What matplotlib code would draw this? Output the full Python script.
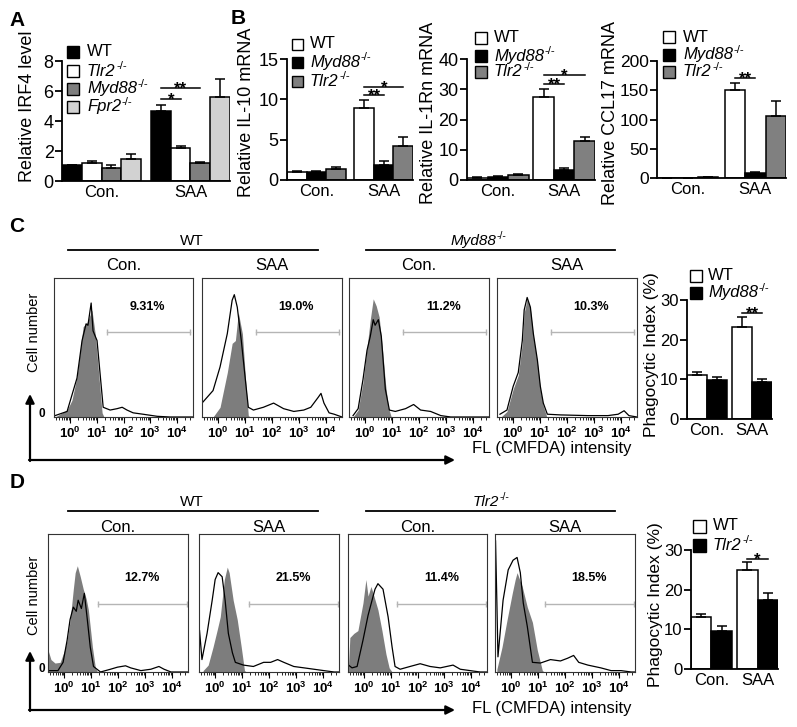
import numpy as np
import matplotlib.pyplot as plt
from matplotlib.patches import Rectangle

plt.rcParams['font.family'] = ['Liberation Sans', 'DejaVu Sans']
plt.rcParams['mathtext.fontset'] = 'custom'
plt.rcParams['mathtext.rm'] = 'Liberation Sans'
plt.rcParams['mathtext.it'] = 'Liberation Sans:italic'
plt.rcParams['mathtext.bf'] = 'Liberation Sans:bold'

W, H = 797, 727

groups = ['Con.', 'SAA']

# ---- A: IRF4 ----
a_labels = ['WT', 'Tlr2', 'Myd88', 'Fpr2']
a_mean = [[1.05, 4.7], [1.2, 2.2], [0.9, 1.2], [1.5, 5.6]]
a_err = [[0.05, 0.38], [0.12, 0.13], [0.2, 0.1], [0.33, 1.2]]

# ---- B: mRNA ----
b_labels = ['WT', 'Myd88', 'Tlr2']
il10_mean = [[1.05, 8.9], [1.05, 1.8], [1.35, 4.2]]
il10_err = [[0.1, 1.0], [0.05, 0.6], [0.3, 1.1]]
il1rn_mean = [[0.8, 27.5], [1.1, 3.3], [1.6, 12.8]]
il1rn_err = [[0.1, 2.5], [0.2, 0.6], [0.3, 1.3]]
ccl17_mean = [[0.5, 151], [0.3, 8], [1.5, 106]]
ccl17_err = [[0.2, 12], [0.1, 3], [0.3, 26]]

# ---- C / D phagocytic index ----
c_mean = [[11.1, 23.2], [9.8, 9.3]]
c_err = [[0.8, 2.5], [0.8, 0.8]]
d_mean = [[13.1, 25.0], [9.7, 17.3]]
d_err = [[0.8, 2.0], [1.1, 1.9]]

# ---- flow histograms: (log10 FL, relative count) ----
c1_grey = [(-0.56, 0), (-0.11, 0.05), (0.07, 0.12), (0.26, 0.29), (0.49, 0.65), (0.64, 0.68),
           (0.82, 0.77), (0.94, 0.60), (1.05, 0.36), (1.2, 0.03), (1.27, 0)]
c1_black = [(-0.56, 0.01), (-0.11, 0.04), (0.26, 0.28), (0.45, 0.55), (0.6, 0.67), (0.67, 0.66),
            (0.79, 0.82), (0.86, 0.62), (1.01, 0.55), (1.12, 0.32), (1.24, 0.07), (1.5, 0.05),
            (1.76, 0.06), (1.95, 0.07), (2.13, 0.05), (2.36, 0.03), (2.73, 0.02), (3.26, 0.005),
            (3.74, 0.0), (4.6, 0.0)]
c2_grey = [(-0.19, 0.0), (0.07, 0.07), (0.34, 0.32), (0.52, 0.53), (0.64, 0.55), (0.75, 0.75),
           (0.9, 0.60), (1.01, 0.29), (1.12, 0.01), (1.2, 0)]
c2_black = [(-0.6, 0.10), (-0.19, 0.19), (0.07, 0.36), (0.34, 0.60), (0.52, 0.84), (0.6, 0.88),
            (0.71, 0.79), (0.86, 0.55), (1.01, 0.27), (1.12, 0.07), (1.31, 0.05), (1.68, 0.07),
            (2.06, 0.10), (2.43, 0.06), (2.81, 0.04), (3.18, 0.05), (3.44, 0.07), (3.71, 0.14),
            (3.82, 0.17), (3.93, 0.10), (4.12, 0.03), (4.31, 0.02), (4.6, 0.0)]
c3_grey = [(-0.45, 0), (-0.26, 0.05), (-0.08, 0.25), (0.07, 0.5), (0.19, 0.7), (0.3, 0.85),
           (0.41, 0.8), (0.52, 0.72), (0.64, 0.5), (0.75, 0.25), (0.86, 0.07), (0.97, 0)]
c3_black = [(-0.45, 0.01), (-0.26, 0.06), (-0.08, 0.27), (0.07, 0.48), (0.19, 0.58), (0.3, 0.7),
            (0.37, 0.66), (0.49, 0.7), (0.6, 0.58), (0.75, 0.2), (0.9, 0.05), (1.12, 0.04),
            (1.5, 0.06), (1.8, 0.09), (2.06, 0.05), (2.43, 0.04), (2.81, 0.01), (3.18, 0.0),
            (4.6, 0.0)]
c4_grey = [(-0.45, 0.0), (-0.23, 0.04), (0.0, 0.2), (0.19, 0.3), (0.34, 0.53), (0.41, 0.75),
           (0.52, 0.85), (0.64, 0.78), (0.75, 0.58), (0.9, 0.39), (1.01, 0.2), (1.12, 0.08),
           (1.25, 0)]
c4_black = [(-0.49, 0.02), (-0.23, 0.05), (0.0, 0.22), (0.19, 0.32), (0.34, 0.55), (0.41, 0.77),
            (0.52, 0.86), (0.64, 0.79), (0.75, 0.6), (0.9, 0.41), (1.01, 0.22), (1.12, 0.1),
            (1.27, 0.02), (1.76, 0.015), (2.77, 0.01), (3.52, 0.01), (3.9, 0.02), (4.12, 0.045),
            (4.3, 0.01), (4.6, 0.0)]
d1_grey = [(-0.6, 0.16), (-0.49, 0.09), (-0.34, 0.065), (-0.15, 0.07), (0.0, 0.15), (0.11, 0.23),
           (0.22, 0.37), (0.34, 0.6), (0.41, 0.72), (0.49, 0.77), (0.6, 0.69), (0.71, 0.6),
           (0.82, 0.53), (0.9, 0.45), (1.05, 0.18), (1.16, 0.03), (1.24, 0)]
d1_black = [(-0.6, 0.01), (-0.23, 0.01), (-0.04, 0.07), (0.11, 0.23), (0.22, 0.38), (0.34, 0.47),
            (0.45, 0.44), (0.52, 0.52), (0.64, 0.46), (0.75, 0.57), (0.86, 0.38), (0.97, 0.18),
            (1.09, 0.04), (1.35, 0.0), (1.72, 0.02), (1.98, 0.035), (2.28, 0.045), (2.47, 0.03),
            (2.85, 0.01), (3.22, 0.02), (3.52, 0.04), (3.71, 0.02), (3.97, 0.0), (4.6, 0.0)]
d2_grey = [(-0.45, 0.01), (-0.26, 0.05), (-0.08, 0.18), (0.07, 0.30), (0.19, 0.4), (0.34, 0.67),
           (0.45, 0.76), (0.52, 0.72), (0.67, 0.52), (0.82, 0.38), (0.97, 0.18), (1.09, 0.01),
           (1.16, 0)]
d2_black = [(-0.58, 0.30), (-0.49, 0.09), (-0.3, 0.28), (-0.11, 0.52), (0.0, 0.67), (0.11, 0.72),
            (0.26, 0.69), (0.37, 0.52), (0.49, 0.28), (0.64, 0.14), (0.75, 0.07), (1.05, 0.05),
            (1.42, 0.04), (1.8, 0.07), (2.06, 0.07), (2.32, 0.09), (2.55, 0.07), (2.92, 0.04),
            (3.3, 0.03), (3.67, 0.02), (4.04, 0.01), (4.42, 0.0), (4.6, 0.0)]
d3_grey = [(-0.58, 0.05), (-0.53, 0.25), (-0.38, 0.28), (-0.23, 0.30), (-0.04, 0.5), (0.07, 0.67),
           (0.15, 0.55), (0.26, 0.62), (0.37, 0.55), (0.52, 0.45), (0.67, 0.3), (0.82, 0.13),
           (0.94, 0.03), (1.05, 0)]
d3_black = [(-0.58, 0.05), (-0.45, 0.03), (-0.26, 0.04), (-0.04, 0.23), (0.15, 0.41), (0.3, 0.52),
            (0.41, 0.6), (0.52, 0.64), (0.71, 0.6), (0.9, 0.4), (1.05, 0.18), (1.16, 0.04),
            (1.35, 0.02), (1.72, 0.04), (2.1, 0.06), (2.47, 0.04), (2.85, 0.03), (3.33, 0.05),
            (3.6, 0.02), (3.97, 0.01), (4.34, 0.0), (4.6, 0.0)]
d4_grey = [(-0.53, 0.02), (-0.34, 0.18), (-0.15, 0.38), (0.04, 0.57), (0.15, 0.67), (0.22, 0.72),
           (0.41, 0.62), (0.6, 0.47), (0.79, 0.36), (0.97, 0.16), (1.16, 0.01), (1.24, 0)]
d4_black = [(-0.58, 0.95), (-0.53, 0.5), (-0.49, 0.11), (-0.3, 0.52), (-0.11, 0.74), (0.07, 0.81),
            (0.22, 0.83), (0.34, 0.72), (0.45, 0.5), (0.6, 0.33), (0.79, 0.07), (1.09, 0.065),
            (1.46, 0.09), (1.83, 0.08), (2.1, 0.10), (2.32, 0.12), (2.51, 0.07), (2.85, 0.05),
            (3.33, 0.03), (3.71, 0.01), (4.08, 0.01), (4.46, 0.0), (4.6, 0.0)]
c_pct = ['9.31%', '19.0%', '11.2%', '10.3%']
d_pct = ['12.7%', '21.5%', '11.4%', '18.5%']

FILL = '#7d7d7d'

fig = plt.figure(figsize=(W / 100, H / 100), dpi=100)
renderer = fig.canvas.get_renderer()


def rect(l, t, r, b):
    return [l / W, 1 - b / H, (r - l) / W, (b - t) / H]


# overlay in pixel coordinates, drawn on top of the other axes
ov = fig.add_axes([0, 0, 1, 1])
ov.set_xlim(0, W)
ov.set_ylim(H, 0)
ov.axis('off')
ov.set_zorder(10)


def label(x, y, name, size, ha='left'):
    # WT in upright text, knockouts italic with a -/- superscript
    if name == 'WT':
        ov.text(x, y, name, fontsize=size, ha=ha, va='center')
        return
    t = ov.text(x, y, name, fontsize=size, style='italic', ha='left', va='center')
    s = ov.text(x, y, '-/-', fontsize=size * 0.68, ha='left', va='center')
    wn = t.get_window_extent(renderer).width
    ws = s.get_window_extent(renderer).width
    x0 = x - (wn + ws) / 2 if ha == 'center' else x
    t.set_x(x0)
    s.set_position((x0 + wn + 0.5, y - size * 0.45))


def bar_panel(box, means, errs, colors, gap, ymax, yticks, sig, ysize=13):
    ax = fig.add_axes(rect(*box))
    n = len(means)
    ng = len(groups)
    for j in range(n):
        x = [g * (n + gap) + j + 0.5 for g in range(ng)]
        ax.bar(x, means[j], width=1, color=colors[j], edgecolor='black', linewidth=1.1, zorder=2)
        ax.errorbar(x, means[j], yerr=[np.zeros(ng), errs[j]], fmt='none', ecolor='black',
                    elinewidth=1.1, capsize=3.5, capthick=1.1, zorder=3)
    ax.set_xlim(0, ng * (n + gap) - gap)
    ax.set_ylim(0, ymax)
    ax.set_yticks(yticks)
    ax.set_xticks([g * (n + gap) + n / 2 for g in range(ng)], groups)
    for s in ['top', 'right']:
        ax.spines[s].set_visible(False)
    for s in ['left', 'bottom']:
        ax.spines[s].set_linewidth(1.3)
    ax.tick_params(axis='y', labelsize=ysize, length=5, width=1.3, pad=1)
    ax.tick_params(axis='x', labelsize=12, length=0, pad=3)
    for g, i, j, y, s in sig:
        x0 = g * (n + gap) + i + 0.5
        x1 = g * (n + gap) + j + 0.5
        ax.plot([x0, x1], [y, y], color='black', lw=1.1, zorder=4)
        ax.annotate(s, ((x0 + x1) / 2, y), xytext=(0, -4), textcoords='offset points',
                    ha='center', va='baseline', fontsize=12, fontweight='bold')
    return ax


def legend(x, ys, tx, labels, colors, w=12, h=12, size=12):
    for lab, col, y in zip(labels, colors, ys):
        ov.add_patch(Rectangle((x, y - h / 2), w, h, facecolor=col, edgecolor='black', lw=1))
        label(tx, y, lab, size)


def hist_panel(box, grey, black, pct, gate_y, pct_y, gate_x):
    ax = fig.add_axes(rect(*box))
    gx, gy = zip(*grey)
    ax.fill_between(gx, gy, color=FILL, lw=0, zorder=1)
    bx, by = zip(*black)
    ax.plot(bx, by, color='black', lw=0.9, zorder=2)
    ax.plot(gate_x, [gate_y, gate_y], color='#b5b5b5', lw=1, marker='|', ms=5, mew=1)
    ax.text(2.9, pct_y, pct, ha='center', va='center', fontsize=9, fontweight='bold')
    ax.set_xlim(-0.6, 4.6)
    ax.set_ylim(0, 1)
    ax.set_xticks(range(5), [r'$\mathbf{10}^{\mathbf{%d}}$' % k for k in range(5)])
    minor = [d + np.log10(k) for d in range(-1, 5) for k in range(2, 10)]
    ax.set_xticks([m for m in minor if -0.6 < m < 4.6], minor=True)
    ax.set_yticks([])
    ax.tick_params(axis='x', which='major', length=4, width=0.8, labelsize=9.5, pad=2)
    ax.tick_params(axis='x', which='minor', length=2.5, width=0.6)
    for s in ax.spines.values():
        s.set_linewidth(0.8)
        s.set_color('#333333')
    return ax


# ---- panel A ----
a_cols = ['black', 'white', '#7f7f7f', '#d2d2d2']
bar_panel((62, 61, 230, 181), a_mean, a_err, a_cols, 0.5, 8, [0, 2, 4, 6, 8],
          [(1, 0, 2, 6.2, '**'), (1, 0, 1, 5.45, '*')])
legend(67, [52, 71, 89, 107], 87, a_labels, a_cols)
ov.text(28, 106, 'Relative IRF4 level', rotation=90, fontsize=13, ha='center', va='center')

# ---- panel B ----
b_cols = ['white', 'black', '#808080']
bar_panel((287, 59, 413, 180), il10_mean, il10_err, b_cols, 0.45, 15, [0, 5, 10, 15],
          [(1, 0, 1, 10.5, '**'), (1, 0, 2, 11.5, '*')])
legend(292, [44, 62, 81], 310, b_labels, b_cols, w=11, h=11)
ov.text(247, 112, 'Relative IL-10 mRNA', rotation=90, fontsize=13, ha='center', va='center')

bar_panel((467, 59, 595, 180), il1rn_mean, il1rn_err, b_cols, 0.24, 40, [0, 10, 20, 30, 40],
          [(1, 0, 1, 31.7, '**'), (1, 0, 2, 34.8, '*')])
legend(475, [38, 56, 72], 494, b_labels, b_cols)
ov.text(429, 113, 'Relative IL-1Rn mRNA', rotation=90, fontsize=13, ha='center', va='center')

bar_panel((657, 61, 786, 178), ccl17_mean, ccl17_err, b_cols, 0.3, 200, [0, 50, 100, 150, 200],
          [(1, 0, 1, 171, '**')], ysize=12.5)
legend(663, [37, 55, 72], 683, b_labels, b_cols)
ov.text(611, 113, 'Relative CCL17 mRNA', rotation=90, fontsize=13, ha='center', va='center')

# ---- panel C ----
c_left = [54, 202, 349, 497]
c_right = [193, 342, 489, 637]
c_hists = [(c1_grey, c1_black), (c2_grey, c2_black), (c3_grey, c3_black), (c4_grey, c4_black)]
for k in range(4):
    hist_panel((c_left[k], 278, c_right[k], 417), c_hists[k][0], c_hists[k][1], c_pct[k],
               0.61, 0.79, [1.4, 4.5])
    ov.text((c_left[k] + c_right[k]) / 2, 265, groups[k % 2], fontsize=12, ha='center', va='center')
label(192, 241, 'WT', 11, ha='center')
ov.plot([68, 318], [250, 250], color='black', lw=1.3)
label(478, 241, 'Myd88', 11, ha='center')
ov.plot([366, 615], [250, 250], color='black', lw=1.3)

bar_panel((687, 300, 772, 419), c_mean, c_err, ['white', 'black'], 0.25, 30, [0, 10, 20, 30],
          [(1, 0, 1, 26.7, '**')], ysize=12)
legend(690, [276, 293], 708, ['WT', 'Myd88'], ['white', 'black'])
ov.text(652, 355, 'Phagocytic Index (%)', rotation=90, fontsize=12.5, ha='center', va='center')

# ---- panel D ----
d_left = [48, 199, 348, 495]
d_right = [188, 339, 487, 635]
d_hists = [(d1_grey, d1_black), (d2_grey, d2_black), (d3_grey, d3_black), (d4_grey, d4_black)]
for k in range(4):
    hist_panel((d_left[k], 534, d_right[k], 672), d_hists[k][0], d_hists[k][1], d_pct[k],
               0.49, 0.68, [1.25, 4.55])
    ov.text((d_left[k] + d_right[k]) / 2, 527, groups[k % 2], fontsize=12, ha='center', va='center')
label(192, 502, 'WT', 11, ha='center')
ov.plot([68, 318], [511, 511], color='black', lw=1.3)
label(491, 502, 'Tlr2', 11, ha='center')
ov.plot([366, 615], [511, 511], color='black', lw=1.3)

bar_panel((691, 550, 778, 669), d_mean, d_err, ['white', 'black'], 0.25, 30, [0, 10, 20, 30],
          [(1, 0, 1, 27.7, '*')], ysize=12)
legend(693, [526, 545], 713, ['WT', 'Tlr2'], ['white', 'black'], w=13, h=13)
ov.text(656, 605, 'Phagocytic Index (%)', rotation=90, fontsize=12.5, ha='center', va='center')

# ---- shared axis arrows and labels for flow plots ----
for y0, y_top, y_fl, y_cell, y_zero in [(460, 394, 448, 332, 414), (710, 651, 708, 595, 669)]:
    ov.annotate('', xy=(30, y_top), xytext=(30, y0 + 1),
                arrowprops=dict(arrowstyle='-|>', color='black', lw=1.6, mutation_scale=13,
                                shrinkA=0, shrinkB=0))
    ov.annotate('', xy=(455, y0), xytext=(29, y0),
                arrowprops=dict(arrowstyle='-|>', color='black', lw=1.6, mutation_scale=13,
                                shrinkA=0, shrinkB=0))
    ov.text(552, y_fl, 'FL (CMFDA) intensity', fontsize=12, ha='center', va='center')
    ov.text(34, y_cell, 'Cell number', rotation=90, fontsize=10.5, ha='center', va='center')
    ov.text(42, y_zero, '0', fontsize=8.5, fontweight='bold', ha='center', va='center')

for lab, x, y in [('A', 17, 20), ('B', 238, 19), ('C', 17, 227), ('D', 17, 482)]:
    ov.text(x, y, lab, fontsize=15, fontweight='bold', ha='center', va='center')

fig.savefig('out.png', dpi=100)
